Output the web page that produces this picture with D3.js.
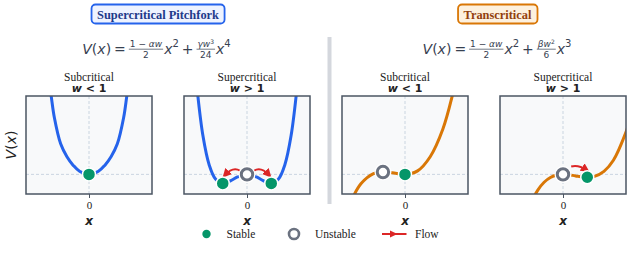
<!DOCTYPE html>
<html>
<head>
<meta charset="utf-8">
<script src="https://cdn.jsdelivr.net/npm/d3@7"></script>
<style>
  html, body { margin: 0; padding: 0; background: #fff; }
  svg { display: block; }
</style>
</head>
<body>
<div id="vis_container"></div>
<script>
// Potential curves, one pair of arrays per panel.
var xs_pitch_sub = [-1.3, -1.2, -1.1, -0.9, -0.7, -0.5, -0.3, 0, 0.3, 0.5, 0.7, 0.9, 1.1, 1.2, 1.3];
var v_pitch_sub  = [2.6, 2.0, 1.45, 0.78, 0.45, 0.23, 0.08, 0, 0.08, 0.23, 0.45, 0.78, 1.45, 2.0, 2.6];

var xs_pitch_sup = [-1.7, -1.6, -1.4, -1.2, -1.0, -0.77, -0.5, -0.3, 0, 0.3, 0.5, 0.77, 1.0, 1.2, 1.4, 1.6, 1.7];
var v_pitch_sup  = [3.2, 2.3, 0.99, 0.24, -0.12, -0.23, -0.15, -0.065, 0, -0.065, -0.15, -0.23, -0.12, 0.24, 0.99, 2.3, 3.2];

var xs_trans_sub = [-1.8, -1.7, -1.4, -1.0, -0.7, -0.4, 0, 0.4, 0.8, 1.2, 1.5, 1.6];
var v_trans_sub  = [-0.86, -0.66, -0.24, 0.02, 0.06, 0.04, 0, 0.09, 0.45, 1.15, 2.0, 2.37];

var xs_trans_sup = [-1.0, -0.8, -0.6, -0.4, -0.2, 0, 0.2, 0.4, 0.77, 1.0, 1.3, 1.6, 2.0, 2.1];
var v_trans_sup  = [-0.69, -0.40, -0.20, -0.08, -0.017, 0, -0.012, -0.039, -0.073, -0.05, 0.078, 0.36, 1.08, 1.33];

var curve_x = [xs_pitch_sub, xs_pitch_sup, xs_trans_sub, xs_trans_sup];
var curve_v = [v_pitch_sub, v_pitch_sup, v_trans_sub, v_trans_sup];

// Panel titles
var regimes = ["Subcritical", "Supercritical", "Subcritical", "Supercritical"];
var conditions = ["<", ">", "<", ">"];
var x_ticks = [0];

// Fixed points: [panel, x, V]
var stable_pts = [[0, 0, 0], [1, -0.77, -0.23], [1, 0.77, -0.23], [2, 0, 0], [3, 0.77, -0.073]];
var unstable_pts = [[1, 0, 0], [2, -0.7, 0.06], [3, 0, 0]];

// Flow arrows: [panel, x0, v0, xc, vc, x1, v1] (start, control, end)
var flow_arrows = [
  [1, -0.22, 0.094, -0.44, 0.21, -0.70, -0.015],
  [1, 0.22, 0.094, 0.44, 0.21, 0.70, -0.015],
  [3, 0.26, 0.20, 0.49, 0.25, 0.75, 0.11]
];

var group_titles = ["Supercritical Pitchfork", "Transcritical"];

var width = 634, height = 253;
var panel_left = [26, 184, 342, 500];
var panel_w = 126, panel_top = 96, panel_h = 98;
var colors = ["#2563eb", "#2563eb", "#d97706", "#d97706"];
var green = "#059669", gray = "#6b7280", red = "#dc2626";

var svg = d3.select("#vis_container").append("svg")
  .attr("width", width).attr("height", height);

var defs = svg.append("defs");
defs.append("marker")
  .attr("id", "arrow")
  .attr("viewBox", "0 0 10 10")
  .attr("refX", 6).attr("refY", 5)
  .attr("markerWidth", 4.5).attr("markerHeight", 4.5)
  .attr("orient", "auto")
  .append("path").attr("d", "M0,0 L10,5 L0,10 z").attr("fill", red);

// Group titles in rounded boxes
function titleBox(cx, text, stroke, fill, color) {
  var g = svg.append("g");
  var t = g.append("text")
    .attr("x", cx).attr("y", 18.5)
    .attr("text-anchor", "middle")
    .style("font-family", "'Liberation Serif', 'Times New Roman', serif")
    .style("font-weight", "bold")
    .style("font-size", "12.4px")
    .style("fill", color)
    .text(text);
  var bb = t.node().getBBox();
  g.insert("rect", "text")
    .attr("x", bb.x - 5.5).attr("y", 4.5)
    .attr("width", bb.width + 11).attr("height", 19)
    .attr("rx", 4)
    .style("fill", fill).style("stroke", stroke).style("stroke-width", 1.8);
}
titleBox(158, group_titles[0], "#2563eb", "#eef3ff", "#1e3a8a");
titleBox(497.5, group_titles[1], "#d97706", "#fdf1df", "#92400e");

// Formulas built from pieces so the fractions can be stacked
function formula(cx, pieces) {
  var g = svg.append("g").style("fill", "#374151")
    .style("font-family", "'DejaVu Sans', sans-serif");
  var cur = 0, base = 54;
  function txt(parent, x, y, s, size, it) {
    var t = parent.append("text").attr("x", x).attr("y", y)
      .style("font-size", size + "px").style("font-style", it ? "italic" : "normal")
      .text(s);
    return t;
  }
  pieces.forEach(function(p) {
    if (p.frac) {
      var fg = g.append("g");
      var n = txt(fg, 0, base - 7.5, p.num, 9, false);
      n.html(p.numHtml);
      var d = txt(fg, 0, base + 3.5, p.den, 9, false);
      var nw = n.node().getComputedTextLength(), dw = d.node().getComputedTextLength();
      var w = Math.max(nw, dw) + 2;
      n.attr("x", cur + (w - nw) / 2);
      d.attr("x", cur + (w - dw) / 2);
      fg.append("line").attr("x1", cur).attr("x2", cur + w)
        .attr("y1", base - 4.8).attr("y2", base - 4.8)
        .style("stroke", "#374151").style("stroke-width", 0.7);
      cur += w + 1;
    } else {
      var t = txt(g, cur, p.sup ? base - 7 : base, p.t, p.sup ? 10 : 14, p.it);
      cur += t.node().getComputedTextLength() + (p.pad || 0);
    }
  });
  g.attr("transform", "translate(" + (cx - cur / 2) + ",0)");
}
var lead = [{t: "V", it: true}, {t: "(", pad: 0}, {t: "x", it: true}, {t: ")", pad: 3}, {t: "=", pad: 3}];
formula(156.5, lead.concat([
  {frac: true, num: "1 − αw", numHtml: "1 − <tspan font-style='italic'>αw</tspan>", den: "2"},
  {t: "x", it: true}, {t: "2", sup: true, pad: 3}, {t: "+", pad: 3},
  {frac: true, num: "γw3", numHtml: "<tspan font-style='italic'>γw</tspan><tspan dy='-3' font-size='6'>3</tspan>", den: "24"},
  {t: "x", it: true}, {t: "4", sup: true}
]));
formula(497, lead.concat([
  {frac: true, num: "1 − αw", numHtml: "1 − <tspan font-style='italic'>αw</tspan>", den: "2"},
  {t: "x", it: true}, {t: "2", sup: true, pad: 3}, {t: "+", pad: 3},
  {frac: true, num: "βw2", numHtml: "<tspan font-style='italic'>βw</tspan><tspan dy='-3' font-size='6'>2</tspan>", den: "6"},
  {t: "x", it: true}, {t: "3", sup: true}
]));

// Separator between the two bifurcation groups
svg.append("line")
  .attr("x1", 329.5).attr("x2", 329.5).attr("y1", 37).attr("y2", 204)
  .style("stroke", "#d4d7dd").style("stroke-width", 4);

// y label
svg.append("text")
  .attr("transform", "translate(16,145) rotate(-90)")
  .attr("text-anchor", "middle")
  .style("font-family", "'DejaVu Sans', sans-serif")
  .style("font-size", "14px")
  .style("fill", "#222")
  .html("<tspan font-style='italic'>V</tspan>(<tspan font-style='italic'>x</tspan>)");

var line_gen = d3.line().curve(d3.curveCatmullRom);

panel_left.forEach(function(left, i) {
  var x = d3.scaleLinear().domain([-2, 2]).range([left, left + panel_w]);
  var y = d3.scaleLinear().domain([-0.5, 2]).range([panel_top + panel_h, panel_top]);
  var g = svg.append("g");

  defs.append("clipPath").attr("id", "clip" + i)
    .append("rect").attr("x", left).attr("y", panel_top)
    .attr("width", panel_w).attr("height", panel_h);

  g.append("rect")
    .attr("x", left).attr("y", panel_top).attr("width", panel_w).attr("height", panel_h)
    .style("fill", "#f8f9fa");

  // dashed reference lines
  g.append("line").attr("x1", x(0)).attr("x2", x(0))
    .attr("y1", panel_top).attr("y2", panel_top + panel_h)
    .style("stroke", "#c5d0de").style("stroke-dasharray", "3,2").style("stroke-width", 0.9);
  g.append("line").attr("x1", left).attr("x2", left + panel_w)
    .attr("y1", y(0)).attr("y2", y(0))
    .style("stroke", "#c5d0de").style("stroke-dasharray", "3,2").style("stroke-width", 0.9);

  var pts = curve_x[i].map(function(xv, k) { return [x(xv), y(curve_v[i][k])]; });
  g.append("path")
    .attr("d", line_gen(pts))
    .attr("clip-path", "url(#clip" + i + ")")
    .style("fill", "none").style("stroke", colors[i]).style("stroke-width", 3)
    .style("stroke-linecap", "round");

  flow_arrows.filter(function(a) { return a[0] == i; }).forEach(function(a) {
    var p = d3.path();
    p.moveTo(x(a[1]), y(a[2]));
    p.quadraticCurveTo(x(a[3]), y(a[4]), x(a[5]), y(a[6]));
    g.append("path").attr("d", p.toString())
      .style("fill", "none").style("stroke", red).style("stroke-width", 2)
      .attr("marker-end", "url(#arrow)");
  });

  unstable_pts.filter(function(d) { return d[0] == i; }).forEach(function(d) {
    g.append("circle").attr("cx", x(d[1])).attr("cy", y(d[2])).attr("r", 8.5).style("fill", "#fff");
    g.append("circle").attr("cx", x(d[1])).attr("cy", y(d[2])).attr("r", 5.7)
      .style("fill", "#fff").style("stroke", gray).style("stroke-width", 3);
  });
  stable_pts.filter(function(d) { return d[0] == i; }).forEach(function(d) {
    g.append("circle").attr("cx", x(d[1])).attr("cy", y(d[2])).attr("r", 6.5)
      .style("fill", green).style("stroke", "#fff").style("stroke-width", 1.5);
  });

  g.append("rect")
    .attr("x", left).attr("y", panel_top).attr("width", panel_w).attr("height", panel_h)
    .style("fill", "none").style("stroke", "#4b5563").style("stroke-width", 1.5);

  // x axis: single tick at zero
  var ax = g.append("g")
    .attr("transform", "translate(0," + (panel_top + panel_h) + ")")
    .call(d3.axisBottom(x).tickValues(x_ticks).tickFormat(d3.format("d")).tickSize(4).tickPadding(3));
  ax.select(".domain").remove();
  ax.selectAll("line").style("stroke", "#4b5563");
  ax.selectAll("text")
    .style("font-family", "'Liberation Serif', serif").style("font-size", "11px").style("fill", "#222");

  g.append("text")
    .attr("x", x(0)).attr("y", 225)
    .attr("text-anchor", "middle")
    .style("font-family", "'DejaVu Sans', sans-serif")
    .style("font-weight", "bold").style("font-style", "italic").style("font-size", "12px")
    .style("fill", "#222")
    .text("x");

  // panel titles
  g.append("text")
    .attr("x", x(0)).attr("y", 80.5)
    .attr("text-anchor", "middle")
    .style("font-family", "'Liberation Serif', serif").style("font-size", "11.5px")
    .style("fill", "#222")
    .text(regimes[i]);
  g.append("text")
    .attr("x", x(0)).attr("y", 92)
    .attr("text-anchor", "middle")
    .style("font-family", "'DejaVu Sans', sans-serif").style("font-weight", "bold")
    .style("font-size", "11px").style("fill", "#222")
    .html("<tspan font-style='italic'>w</tspan> " + (conditions[i] == "<" ? "&lt;" : "&gt;") + " 1");
});

// Legend
var leg = svg.append("g")
  .style("font-family", "'Liberation Serif', serif").style("font-size", "11.5px").style("fill", "#222");
leg.append("circle").attr("cx", 206.5).attr("cy", 234).attr("r", 4.2).style("fill", green);
leg.append("text").attr("x", 226.5).attr("y", 238).text("Stable");
leg.append("circle").attr("cx", 294).attr("cy", 234).attr("r", 5).style("fill", "#fff")
  .style("stroke", gray).style("stroke-width", 2.6);
leg.append("text").attr("x", 315).attr("y", 238).text("Unstable");
leg.append("line").attr("x1", 382).attr("x2", 406.5).attr("y1", 234).attr("y2", 234)
  .style("stroke", red).style("stroke-width", 2);
leg.append("path").attr("d", "M390,230.5 L397.5,234 L390,237.5 z").style("fill", red);
leg.append("text").attr("x", 415).attr("y", 238).text("Flow");
</script>
</body>
</html>
